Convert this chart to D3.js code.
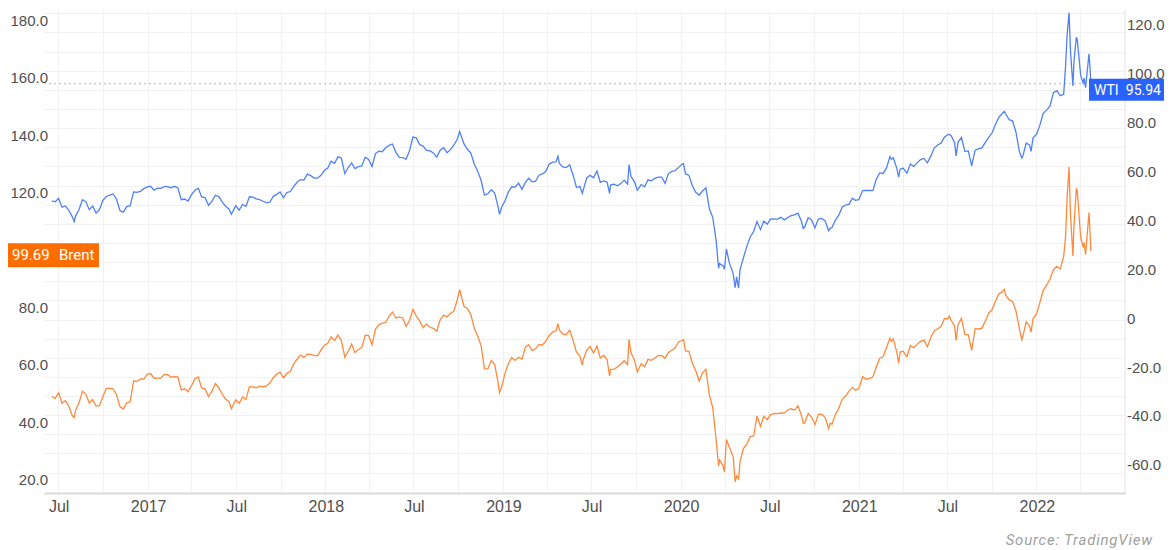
<!DOCTYPE html>
<meta charset="utf-8">
<style>
body { margin: 0; background: #fff; }
svg { display: block; font-family: Roboto, "Open Sans", sans-serif; }
.axis text { fill: #4f4f4f; font-size: 15px; }
.axis--x text { font-size: 16px; }
.axis line { display: none; }
.axis--y path { display: none; }
.axis--x path { stroke: #dadada; stroke-width: 2px; }
.grid line { stroke: #f1f1f4; stroke-width: 1px; shape-rendering: crispEdges; }
.line-wti { fill: none; stroke: #4f80f6; stroke-width: 1.3px; }
.line-brent { fill: none; stroke: #ff8a3d; stroke-width: 1.3px; }
.price-line { stroke: #9fb8fa; stroke-width: 1px; stroke-dasharray: 2,3; }
.tag text { fill: #fff; font-size: 15px; }
.tag--wti text { font-size: 14px; }
.source { fill: #a0a0a0; font-size: 15px; font-style: italic; letter-spacing: 0.8px; }
</style>
<body>
<div id="chart"></div>
<script src="https://d3js.org/d3.v7.min.js"></script>
<script>
// observation dates (shared by both series)
var dates = [
  // 2016
  "2016-06-17","2016-06-24","2016-07-01","2016-07-08","2016-07-15","2016-07-22","2016-07-29","2016-08-02","2016-08-05","2016-08-12",
  "2016-08-19","2016-08-26","2016-09-02","2016-09-09","2016-09-16","2016-09-23","2016-09-30","2016-10-07","2016-10-14","2016-10-21",
  "2016-10-28","2016-11-04","2016-11-11","2016-11-18","2016-11-25","2016-12-02","2016-12-09","2016-12-16","2016-12-23","2016-12-30",
  // 2017
  "2017-01-06","2017-01-13","2017-01-20","2017-01-27","2017-02-03","2017-02-10","2017-02-17","2017-02-24","2017-03-03","2017-03-10",
  "2017-03-17","2017-03-24","2017-03-31","2017-04-07","2017-04-14","2017-04-21","2017-04-28","2017-05-05","2017-05-12","2017-05-19",
  "2017-05-26","2017-06-02","2017-06-09","2017-06-16","2017-06-21","2017-06-30","2017-07-07","2017-07-14","2017-07-21","2017-07-28",
  "2017-08-04","2017-08-11","2017-08-18","2017-08-25","2017-09-01","2017-09-08","2017-09-15","2017-09-22","2017-09-29","2017-10-06",
  "2017-10-13","2017-10-20","2017-10-27","2017-11-03","2017-11-10","2017-11-17","2017-11-24","2017-12-01","2017-12-08","2017-12-15",
  "2017-12-22","2017-12-29",
  // 2018
  "2018-01-05","2018-01-12","2018-01-19","2018-01-26","2018-02-02","2018-02-09","2018-02-16","2018-02-23","2018-03-02","2018-03-09",
  "2018-03-16","2018-03-23","2018-03-30","2018-04-06","2018-04-13","2018-04-20","2018-04-27","2018-05-04","2018-05-11","2018-05-18",
  "2018-05-25","2018-06-01","2018-06-08","2018-06-15","2018-06-22","2018-06-29","2018-07-06","2018-07-13","2018-07-20","2018-07-27",
  "2018-08-03","2018-08-10","2018-08-17","2018-08-24","2018-08-31","2018-09-07","2018-09-14","2018-09-21","2018-09-28","2018-10-03",
  "2018-10-12","2018-10-19","2018-10-26","2018-11-02","2018-11-09","2018-11-16","2018-11-23","2018-11-30","2018-12-07","2018-12-14",
  "2018-12-21","2018-12-24","2018-12-28",
  // 2019
  "2019-01-04","2019-01-11","2019-01-18","2019-01-25","2019-02-01","2019-02-08","2019-02-15","2019-02-22","2019-03-01","2019-03-08",
  "2019-03-15","2019-03-22","2019-03-29","2019-04-05","2019-04-12","2019-04-19","2019-04-23","2019-04-26","2019-05-03","2019-05-10",
  "2019-05-17","2019-05-24","2019-05-31","2019-06-07","2019-06-12","2019-06-14","2019-06-21","2019-06-28","2019-07-05","2019-07-12",
  "2019-07-19","2019-07-26","2019-08-02","2019-08-07","2019-08-09","2019-08-16","2019-08-23","2019-08-30","2019-09-06","2019-09-13",
  "2019-09-16","2019-09-20","2019-09-27","2019-10-03","2019-10-11","2019-10-18","2019-10-25","2019-11-01","2019-11-08","2019-11-15",
  "2019-11-22","2019-11-29","2019-12-06","2019-12-13","2019-12-20","2019-12-27",
  // 2020
  "2020-01-03","2020-01-06","2020-01-10","2020-01-17","2020-01-24","2020-01-31","2020-02-07","2020-02-14","2020-02-21","2020-02-28",
  "2020-03-06","2020-03-13","2020-03-18","2020-03-20","2020-03-27","2020-03-30","2020-04-03","2020-04-09","2020-04-17","2020-04-21",
  "2020-04-24","2020-04-28","2020-05-01","2020-05-08","2020-05-15","2020-05-22","2020-05-29","2020-06-05","2020-06-12","2020-06-19",
  "2020-06-26","2020-07-03","2020-07-10","2020-07-17","2020-07-24","2020-07-31","2020-08-07","2020-08-14","2020-08-21","2020-08-28",
  "2020-09-04","2020-09-08","2020-09-11","2020-09-18","2020-09-25","2020-10-02","2020-10-09","2020-10-16","2020-10-23","2020-10-30",
  "2020-11-02","2020-11-06","2020-11-13","2020-11-20","2020-11-27","2020-12-04","2020-12-11","2020-12-18","2020-12-24","2020-12-31",
  // 2021
  "2021-01-08","2021-01-15","2021-01-22","2021-01-29","2021-02-05","2021-02-12","2021-02-19","2021-02-26","2021-03-05","2021-03-08",
  "2021-03-12","2021-03-19","2021-03-23","2021-03-26","2021-04-01","2021-04-09","2021-04-16","2021-04-23","2021-04-30","2021-05-07",
  "2021-05-14","2021-05-21","2021-05-28","2021-06-04","2021-06-11","2021-06-18","2021-06-25","2021-07-02","2021-07-05","2021-07-09",
  "2021-07-16","2021-07-19","2021-07-23","2021-07-30","2021-08-06","2021-08-13","2021-08-20","2021-08-27","2021-09-03","2021-09-10",
  "2021-09-17","2021-09-24","2021-10-01","2021-10-08","2021-10-15","2021-10-22","2021-10-26","2021-10-29","2021-11-05","2021-11-12",
  "2021-11-19","2021-11-26","2021-12-01","2021-12-03","2021-12-10","2021-12-17","2021-12-20","2021-12-24","2021-12-31",
  // 2022
  "2022-01-07","2022-01-14","2022-01-21","2022-01-28","2022-02-04","2022-02-11","2022-02-18","2022-02-25","2022-03-01","2022-03-04",
  "2022-03-08","2022-03-11","2022-03-16","2022-03-18","2022-03-23","2022-03-25","2022-04-01","2022-04-06","2022-04-08","2022-04-11",
  "2022-04-18","2022-04-20","2022-04-22"
];

// WTI, right axis
var wti = [
  47.98,47.64,48.99,45.41,45.95,44.19,41.60,39.51,41.80,44.49,
  48.52,47.64,44.44,45.88,43.03,44.48,48.24,49.81,50.35,50.85,
  48.70,44.07,43.41,45.69,46.06,51.68,51.50,51.90,53.02,53.72,
  53.99,52.37,53.22,53.17,53.83,53.86,53.40,53.99,53.33,48.49,
  48.78,47.97,50.60,52.24,53.18,49.62,49.33,46.22,47.84,50.33,
  49.80,47.66,45.83,44.74,42.53,46.04,44.23,46.54,45.77,49.71,
  49.58,48.82,48.51,47.87,47.29,47.48,49.89,50.66,51.67,49.29,
  51.45,51.84,53.90,55.64,56.74,56.55,58.95,58.36,57.36,57.30,
  58.47,60.42,
  61.44,64.30,63.37,66.14,65.45,59.20,61.68,63.55,61.25,62.04,
  62.34,65.88,64.94,62.06,67.39,68.38,68.10,69.72,70.70,71.28,
  67.88,65.81,65.74,65.06,68.58,74.15,73.80,71.01,70.46,68.69,
  68.49,67.63,65.91,68.72,69.80,67.75,68.99,70.78,73.25,76.41,
  71.34,69.12,67.59,63.14,60.19,56.46,50.42,50.93,52.61,51.20,
  45.59,42.53,45.33,
  47.96,51.59,53.80,53.69,55.26,52.72,55.59,57.26,55.80,56.07,
  58.52,59.04,60.14,63.08,63.89,64.00,66.30,63.30,61.94,61.66,
  62.76,58.63,53.50,53.99,51.14,52.51,57.43,58.47,57.51,60.21,
  55.63,56.20,55.66,51.09,54.50,54.87,54.17,55.10,56.52,54.85,
  62.90,58.09,55.91,52.45,54.70,53.78,56.66,56.20,57.24,57.72,
  57.77,55.17,59.20,60.07,60.44,61.72,
  63.05,63.27,59.04,58.54,54.19,51.56,50.32,52.05,53.38,44.76,
  41.28,31.73,20.37,22.43,21.51,20.09,28.34,22.76,18.27,12.50,
  16.94,12.34,19.78,24.74,29.43,33.25,35.49,39.55,36.26,39.75,
  38.49,40.65,40.55,40.59,41.29,40.27,41.22,42.01,42.34,42.97,
  39.77,36.76,37.33,41.11,40.25,37.05,40.60,40.88,39.85,35.79,
  36.81,37.14,40.13,42.15,45.53,46.26,46.57,49.10,48.23,48.52,
  52.24,52.36,52.27,52.20,56.85,59.47,59.24,61.50,66.09,65.05,
  65.61,61.42,57.76,60.97,61.45,59.32,63.13,62.14,63.58,64.90,
  65.37,63.58,66.32,69.62,70.91,71.64,74.05,75.16,75.23,74.56,
  71.81,66.42,72.07,73.95,68.28,68.44,62.32,68.74,69.29,69.72,
  71.97,73.98,75.88,79.35,82.28,83.76,84.65,83.57,81.27,80.79,
  76.10,68.15,65.57,66.26,71.67,70.86,68.23,73.79,75.21,
  78.90,83.82,85.14,86.82,92.31,93.10,91.07,91.59,103.41,115.68,
  125.00,109.33,95.04,104.70,114.93,113.90,99.27,96.23,98.26,94.29,
  108.21,102.75,95.94
];

// Brent, left axis
var brent = [
  49.17,48.41,50.35,46.76,47.61,45.69,42.46,41.80,44.27,46.97,
  50.88,49.92,46.83,48.01,45.77,45.89,49.06,51.93,51.95,51.78,
  49.71,45.58,44.75,46.86,47.24,54.46,54.33,55.21,55.16,56.82,
  57.10,55.45,55.49,55.52,56.81,56.70,55.81,55.99,55.90,51.37,
  51.76,50.80,52.83,55.24,55.89,51.96,51.73,49.10,50.84,53.61,
  52.15,49.95,48.15,47.37,44.82,47.92,46.71,48.91,48.06,52.52,
  52.42,52.10,52.72,52.41,52.75,53.78,55.62,56.86,57.54,55.62,
  57.17,57.75,60.44,62.07,63.52,62.72,63.86,63.73,63.40,63.23,
  65.25,66.87,
  67.62,69.87,68.61,70.52,68.58,62.79,64.84,67.31,64.37,65.49,
  66.21,70.45,70.27,67.11,72.58,74.06,74.64,74.87,77.12,78.51,
  76.44,76.79,76.46,73.44,75.55,79.44,77.11,75.33,73.07,74.29,
  73.21,72.81,71.83,75.82,77.42,76.83,78.09,78.80,82.72,86.29,
  80.43,79.78,77.62,72.83,70.18,66.76,58.80,58.71,61.67,60.28,
  53.82,50.47,52.20,
  57.06,60.48,62.70,61.64,62.75,62.10,66.25,67.12,65.07,65.74,
  67.16,67.03,68.39,70.34,71.55,71.97,74.51,72.15,70.85,70.62,
  72.21,68.69,64.49,63.29,59.97,62.01,65.20,66.55,64.23,66.72,
  62.47,63.46,61.89,56.23,58.53,58.64,59.34,60.43,61.54,60.22,
  69.02,64.28,61.91,57.71,60.51,59.42,62.02,61.69,62.51,63.30,
  63.39,62.43,64.39,65.22,66.14,68.16,
  68.60,68.91,64.98,64.85,60.69,58.16,54.47,57.32,58.50,49.67,
  45.27,33.85,24.88,26.98,24.93,22.76,34.11,31.48,28.08,19.33,
  21.44,20.46,26.44,30.97,32.50,35.13,35.33,42.30,38.73,42.19,
  41.02,42.80,43.24,43.14,43.34,43.30,44.40,44.80,44.35,45.81,
  42.66,39.78,39.83,43.15,41.92,39.27,42.85,42.93,41.77,37.94,
  39.71,39.45,42.78,44.96,48.18,49.25,50.97,52.26,51.29,51.80,
  55.99,55.10,55.41,55.88,59.34,62.43,62.91,66.13,69.36,68.24,
  69.22,64.53,60.79,64.57,64.86,62.95,66.77,66.11,67.25,68.28,
  68.71,66.44,69.63,71.89,72.69,73.51,76.18,76.17,77.16,75.55,
  73.59,68.62,74.10,76.33,70.70,70.59,65.18,72.70,72.61,72.92,
  75.34,78.09,79.28,82.39,84.86,85.53,86.40,84.38,82.74,82.17,
  78.89,72.72,68.87,69.88,75.15,73.52,71.52,76.14,77.78,
  81.75,86.06,87.89,90.03,93.27,94.44,93.54,97.93,104.97,118.11,
  129.00,112.67,98.02,107.93,121.60,120.65,104.39,101.07,102.78,98.48,
  113.16,106.80,99.69
];

// 100.0 on the left is covered by the Brent tag in the picture
var leftTicks = [20, 40, 60, 80, 120, 140, 160, 180];
var rightTicks = [-60, -40, -20, 0, 20, 40, 60, 80, 100, 120];
var xTickDates = ["2016-07-01","2017-01-01","2017-07-01","2018-01-01","2018-07-01","2019-01-01",
                  "2019-07-01","2020-01-01","2020-07-01","2021-01-01","2021-07-01","2022-01-01"];
var xTickLabels = ["Jul","2017","Jul","2018","Jul","2019","Jul","2020","Jul","2021","Jul","2022"];

var width = 1172, height = 550,
    plotTop = 10, plotBottom = 493, plotLeft = 44, plotRight = 1125;

var parse = d3.timeParse("%Y-%m-%d");

var rows = dates.map(function(d, i) {
    return { date: parse(d), wti: wti[i], brent: brent[i] };
});

var x = d3.scaleTime()
    .domain([parse("2016-06-01"), parse("2022-07-01")])
    .range([plotLeft, plotRight]);

var yL = d3.scaleLinear().domain([20, 180]).range([480, 20.7]);   // Brent
var yR = d3.scaleLinear().domain([-60, 120]).range([465, 24.9]);  // WTI

var svg = d3.select("#chart").append("svg")
    .attr("width", width)
    .attr("height", height);

// faint background grid
var grid = svg.append("g").attr("class", "grid");

grid.selectAll(".gv")
    .data(d3.timeMonth.every(3).range(parse("2016-07-01"), parse("2022-07-01")))
    .enter().append("line")
    .attr("x1", function(d) { return x(d); })
    .attr("x2", function(d) { return x(d); })
    .attr("y1", plotTop)
    .attr("y2", plotBottom);

grid.selectAll(".gh")
    .data(d3.range(22.4, 186, 20 / 3))
    .enter().append("line")
    .attr("x1", plotLeft)
    .attr("x2", plotRight)
    .attr("y1", function(d) { return yL(d); })
    .attr("y2", function(d) { return yL(d); });

// right border
svg.append("line")
    .attr("x1", plotRight).attr("x2", plotRight)
    .attr("y1", plotTop).attr("y2", plotBottom)
    .style("stroke", "#e4e4e4");

var lastWti = wti[wti.length - 1],
    lastBrent = brent[brent.length - 1];

// price line for the last WTI value
svg.append("line")
    .attr("class", "price-line")
    .attr("x1", plotLeft).attr("x2", plotRight)
    .attr("y1", yR(lastWti)).attr("y2", yR(lastWti));

var wtiLine = d3.line()
    .x(function(d) { return x(d.date); })
    .y(function(d) { return yR(d.wti); });

var brentLine = d3.line()
    .x(function(d) { return x(d.date); })
    .y(function(d) { return yL(d.brent); });

svg.append("path").datum(rows).attr("class", "line-wti").attr("d", wtiLine);
svg.append("path").datum(rows).attr("class", "line-brent").attr("d", brentLine);

// axes
svg.append("g")
    .attr("class", "axis axis--x")
    .attr("transform", "translate(0," + plotBottom + ")")
    .call(d3.axisBottom(x)
        .tickValues(xTickDates.map(parse))
        .tickFormat(function(d, i) { return xTickLabels[i]; })
        .tickSize(0)
        .tickSizeOuter(0)
        .tickPadding(8));

svg.append("g")
    .attr("class", "axis axis--y")
    .attr("transform", "translate(52,0)")
    .call(d3.axisLeft(yL)
        .tickValues(leftTicks)
        .tickFormat(function(d) { return d.toFixed(1); })
        .tickSize(0)
        .tickPadding(4));

svg.append("g")
    .attr("class", "axis axis--y")
    .attr("transform", "translate(" + plotRight + ",0)")
    .call(d3.axisRight(yR)
        .tickValues(rightTicks)
        .tickFormat(function(d) { return d === 0 ? "0" : d.toFixed(1); })
        .tickSize(0)
        .tickPadding(2));

// last value tags
var brentTag = svg.append("g").attr("class", "tag")
    .attr("transform", "translate(8," + (yL(lastBrent) + 4) + ")");
brentTag.append("rect")
    .attr("y", -12).attr("width", 91).attr("height", 24)
    .style("fill", "#ff6d00");
brentTag.append("text").attr("x", 4).attr("dy", "0.35em").text(lastBrent.toFixed(2));
brentTag.append("text").attr("x", 51).attr("dy", "0.35em").text("Brent");

var wtiTag = svg.append("g").attr("class", "tag tag--wti")
    .attr("transform", "translate(1089," + (yR(lastWti) + 6) + ")");
wtiTag.append("rect")
    .attr("y", -11).attr("width", 75).attr("height", 22)
    .style("fill", "#2962ff");
wtiTag.append("text").attr("x", 5).attr("dy", "0.35em").text("WTI");
wtiTag.append("text").attr("x", 72).attr("dy", "0.35em").attr("text-anchor", "end").text(lastWti.toFixed(2));

svg.append("text")
    .attr("class", "source")
    .attr("x", 1153)
    .attr("y", 545)
    .attr("text-anchor", "end")
    .text("Source: TradingView");
</script>
